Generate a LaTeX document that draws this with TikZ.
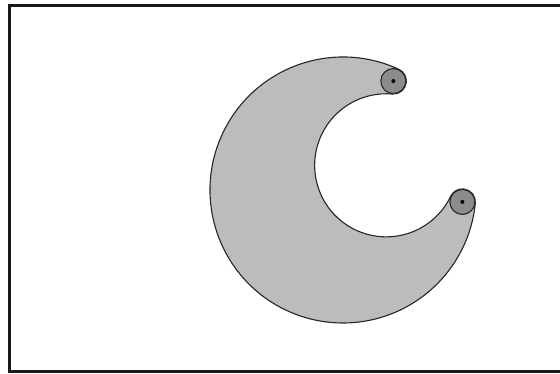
\documentclass[tikz,border=0pt]{standalone}
\usetikzlibrary{calc}
\definecolor{moonfill}{RGB}{188,188,188}
\definecolor{knobfill}{RGB}{140,140,140}
\tikzset{
  frameline/.style={line width=3pt, draw=black!90},
  crescent/.style={fill=moonfill, draw=black!85, line width=1.1pt},
  knob/.style={fill=knobfill, draw=black!85, line width=1.1pt},
  knobdot/.style={fill=black}
}
\begin{document}
\begin{tikzpicture}[x=1pt,y=1pt]
  \useasboundingbox (0,0) rectangle (560,373);
  \clip (0,0) rectangle (560,373);
  % frame (right side runs off the picture)
  \draw[frameline] (9.5,1.5) rectangle (580,367.5);
  % key points
  \coordinate (O) at (343,183);
  \coordinate (T) at ($(O)+(65.2:120)$);
  \coordinate (B) at ($(O)+(-5.7:120)$);
  % crescent
  \draw[crescent] ($(O)+(65.2:133)$)
      arc[start angle=65.2, end angle=354.3, radius=133]
      arc[start angle=-5.7, end angle=154.34, radius=13]
      arc[start angle=-25.66, end angle=-274.84, radius=71.54]
      arc[start angle=-94.84, end angle=65.2, radius=13]
      -- cycle;
  % end knobs
  \draw[knob] (T) circle[radius=12.5];
  \draw[knob] (B) circle[radius=12.5];
  \fill[knobdot] (T) circle[radius=2];
  \fill[knobdot] (B) circle[radius=2];
\end{tikzpicture}
\end{document}
